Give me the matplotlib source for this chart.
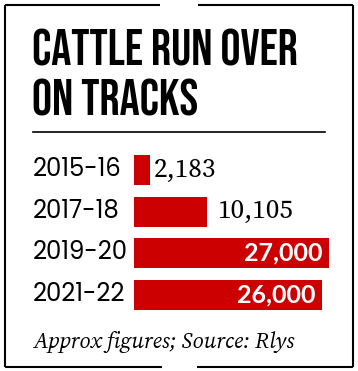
import matplotlib
matplotlib.use("Agg")
import matplotlib.pyplot as plt
from matplotlib.lines import Line2D
from matplotlib.transforms import blended_transform_factory

years = ["2015-16", "2017-18", "2019-20", "2021-22"]
cattle = [2183, 10105, 27000, 26000]
labels = ["2,183", "10,105", "27,000", "26,000"]
inside = [False, False, True, True]

W, H = 358, 371
RED = "#cc0000"

fig = plt.figure(figsize=(W / 100, H / 100), dpi=100)
fig.patch.set_facecolor("white")


def fx(px):
    return px / W


def fy(py):
    return 1 - py / H


# frame with gaps at top and bottom
frame = dict(color="black", lw=1.5, solid_capstyle="butt")
for xs, ys in [([5, 160], [5, 5]), ([198, 353], [5, 5]),
               ([5, 162], [367, 367]), ([197, 353], [367, 367]),
               ([5, 5], [5, 367]), ([353, 353], [5, 367])]:
    fig.add_artist(Line2D([fx(x) for x in xs], [fy(y) for y in ys],
                          transform=fig.transFigure, **frame))

# title
title_font = dict(family=["Bebas Neue", "DejaVu Sans"], fontsize=36,
                  color="black", va="baseline", ha="left")
fig.text(fx(32), fy(66), "CATTLE RUN OVER", **title_font)
fig.text(fx(32), fy(115), "ON TRACKS", **title_font)

fig.add_artist(Line2D([fx(33), fx(325)], [fy(132), fy(132)],
                      transform=fig.transFigure, color="black", lw=1.2))

# bars
ax = fig.add_axes([fx(134), fy(316), fx(200), (316 - 149) / H])
y = list(range(len(years)))
ax.barh(y, cattle, height=0.72, color=RED)
ax.set_xlim(0, 27700)
ax.set_ylim(3.5, -0.5)
ax.axis("off")

pads = [4, 10]
for i, (v, lab, ins) in enumerate(zip(cattle, labels, inside)):
    if ins:
        ax.annotate(lab, (v, i), xytext=(-6, 0), textcoords="offset pixels",
                    ha="right", va="center", color="white", fontsize=18,
                    fontweight="bold", family=["Lato", "DejaVu Sans"])
    else:
        ax.annotate(lab, (v, i), xytext=(pads[i], 0), textcoords="offset pixels",
                    ha="left", va="center", color="black", fontsize=19.5,
                    fontweight="semibold",
                    family=["Source Serif 4", "DejaVu Serif"])

# year labels sit left of the bars, on the frame margin
ytrans = blended_transform_factory(fig.transFigure, ax.transData)
for i, yr in enumerate(years):
    fig.text(fx(33), i, yr, transform=ytrans, ha="left", va="center",
             fontsize=17.5, family=["Poppins", "Lato", "DejaVu Sans"])

fig.text(fx(33), fy(348), "Approx figures; Source: Rlys", ha="left",
         va="baseline", fontsize=16, style="italic",
         family=["Source Serif 4", "DejaVu Serif"])

plt.savefig("out.png", dpi=100)
